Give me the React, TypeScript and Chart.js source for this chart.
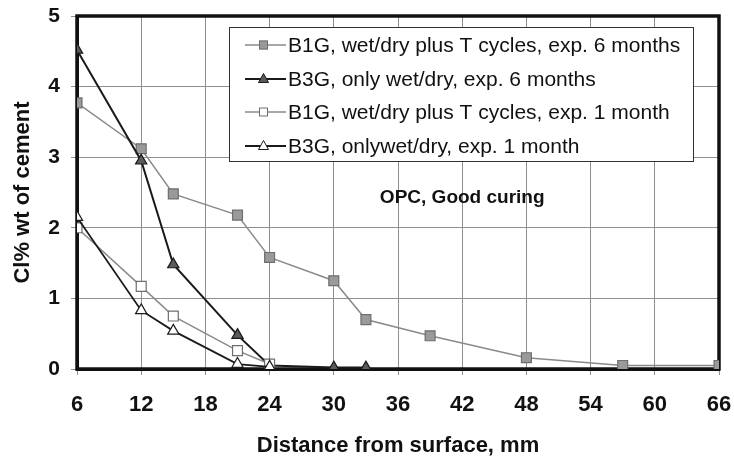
import React, { useEffect, useRef } from "react";
import { Chart, registerables } from "chart.js";

Chart.register(...registerables);

const seriesLabels = [
  "B1G, wet/dry plus T cycles, exp. 6 months",
  "B3G, only wet/dry, exp. 6 months",
  "B1G, wet/dry plus T cycles, exp. 1 month",
  "B3G, onlywet/dry, exp. 1 month",
];

const b1g6x = [6, 12, 15, 21, 24, 30, 33, 39, 48, 57, 66];
const b1g6y = [3.77, 3.12, 2.48, 2.18, 1.58, 1.25, 0.7, 0.47, 0.16, 0.05, 0.05];

const b3g6x = [6, 12, 15, 21, 24, 30, 33];
const b3g6y = [4.52, 2.95, 1.48, 0.48, 0.05, 0.02, 0.02];

const b1g1x = [6, 12, 15, 21, 24];
const b1g1y = [2.0, 1.17, 0.75, 0.26, 0.07];

const b3g1x = [6, 12, 15, 21, 24];
const b3g1y = [2.15, 0.83, 0.54, 0.07, 0.03];

const xTicks = [6, 12, 18, 24, 30, 36, 42, 48, 54, 60, 66];
const yTicks = [0, 1, 2, 3, 4, 5];

const annotationText = "OPC, Good curing";
const xTitle = "Distance from surface, mm";
const yTitle = "Cl% wt of cement";

const FONT = "'Liberation Sans', Arial, sans-serif";

const styles = [
  { line: "#8a8a8a", width: 1.5, style: "rect", fill: "#9a9a9a", border: "#6e6e6e", radius: 7 },
  { line: "#1a1a1a", width: 2, style: "triangle", fill: "#5a5a5a", border: "#1a1a1a", radius: 6.5 },
  { line: "#8a8a8a", width: 1.5, style: "rect", fill: "#ffffff", border: "#6e6e6e", radius: 7 },
  { line: "#1a1a1a", width: 1.8, style: "triangle", fill: "#ffffff", border: "#1a1a1a", radius: 6.5 },
];

function pts(xs: number[], ys: number[]) {
  return xs.map((x, i) => ({ x, y: ys[i] }));
}

const framePlugin = {
  id: "frame",
  beforeDatasetsDraw(chart: any) {
    const { ctx, chartArea: a } = chart;
    ctx.save();
    ctx.strokeStyle = "#111";
    ctx.lineWidth = 3.5;
    ctx.strokeRect(a.left, a.top, a.right - a.left, a.bottom - a.top);
    ctx.font = `bold 19px ${FONT}`;
    ctx.fillStyle = "#111";
    ctx.textAlign = "center";
    ctx.textBaseline = "middle";
    const xs = chart.scales.x;
    const ys = chart.scales.y;
    ctx.fillText(annotationText, xs.getPixelForValue(42.0), ys.getPixelForValue(2.43));
    ctx.restore();
  },
  afterDraw(chart: any) {
    const { ctx } = chart;
    const left = 229, top = 27, right = 693, bottom = 161;
    ctx.save();
    ctx.fillStyle = "#fff";
    ctx.fillRect(left, top, right - left, bottom - top);
    ctx.strokeStyle = "#333";
    ctx.lineWidth = 1;
    ctx.strokeRect(left + 0.5, top + 0.5, right - left, bottom - top);
    const rows = [45, 79, 112, 146];
    ctx.font = `21px ${FONT}`;
    ctx.textBaseline = "middle";
    ctx.textAlign = "left";
    seriesLabels.forEach((lbl, i) => {
      const s = styles[i];
      const y = rows[i];
      ctx.strokeStyle = s.line;
      ctx.lineWidth = s.width;
      ctx.beginPath();
      ctx.moveTo(245, y);
      ctx.lineTo(286, y);
      ctx.stroke();
      ctx.fillStyle = s.fill;
      ctx.strokeStyle = s.border;
      ctx.lineWidth = 1;
      if (s.style === "rect") {
        ctx.fillRect(259, y - 4.5, 9, 9);
        ctx.strokeRect(259.5, y - 4, 8, 8);
      } else {
        ctx.beginPath();
        ctx.moveTo(263.5, y - 5.5);
        ctx.lineTo(268.5, y + 3.5);
        ctx.lineTo(258.5, y + 3.5);
        ctx.closePath();
        ctx.fill();
        ctx.stroke();
      }
      ctx.fillStyle = "#111";
      ctx.fillText(lbl, 288, y + 1);
    });
    ctx.restore();
  },
};

export default function App() {
  const ref = useRef<HTMLCanvasElement>(null);
  useEffect(() => {
    const canvas = ref.current!;
    const datasets = [
      pts(b1g6x, b1g6y),
      pts(b3g6x, b3g6y),
      pts(b1g1x, b1g1y),
      pts(b3g1x, b3g1y),
    ].map((data, i) => {
      const s = styles[i];
      return {
        label: seriesLabels[i],
        data,
        borderColor: s.line,
        borderWidth: s.width,
        pointStyle: s.style,
        pointRadius: s.radius,
        pointBackgroundColor: s.fill,
        pointBorderColor: s.border,
        pointBorderWidth: 1.2,
        tension: 0,
        order: 4 - i,
      };
    });
    const chart = new Chart(canvas, {
      type: "line",
      data: { datasets },
      plugins: [framePlugin],
      options: {
        animation: false,
        responsive: false,
        events: [],
        layout: { padding: { top: 16, right: 15, left: 0, bottom: 0 } },
        plugins: { legend: { display: false }, tooltip: { enabled: false } },
        scales: {
          x: {
            type: "linear",
            min: 6,
            max: 66,
            afterBuildTicks: (scale: any) => {
              scale.ticks = xTicks.map((v) => ({ value: v }));
            },
            afterFit: (scale: any) => {
              scale.height = 90;
              scale.paddingLeft = 0;
              scale.paddingRight = 0;
            },
            grid: { color: "#8f8f8f", lineWidth: 1, tickLength: 6, drawOnChartArea: true },
            border: { color: "#111", width: 3 },
            ticks: {
              color: "#111",
              font: { family: FONT, size: 22, weight: "bold" },
              padding: 17,
              maxRotation: 0,
              autoSkip: false,
            },
            title: {
              display: true,
              text: xTitle,
              color: "#111",
              font: { family: FONT, size: 22, weight: "bold" },
              padding: { top: 0, bottom: 0 },
            },
          },
          y: {
            type: "linear",
            min: 0,
            max: 5,
            afterBuildTicks: (scale: any) => {
              scale.ticks = yTicks.map((v) => ({ value: v }));
            },
            afterFit: (scale: any) => {
              scale.width = 77;
              scale.paddingTop = 0;
              scale.paddingBottom = 0;
            },
            grid: { color: "#8f8f8f", lineWidth: 1, tickLength: 6 },
            border: { color: "#111", width: 3 },
            ticks: {
              color: "#111",
              font: { family: FONT, size: 21, weight: "bold" },
              padding: 11,
            },
            title: {
              display: true,
              text: yTitle,
              color: "#111",
              font: { family: FONT, size: 22, weight: "bold" },
              padding: { top: 10, bottom: 0 },
            },
          },
        },
      } as any,
    });
    return () => chart.destroy();
  }, []);
  return (
    <div style={{ position: "absolute", left: 0, top: 0, width: 734, height: 459, background: "#fff" }}>
      <canvas ref={ref} width={734} height={459} style={{ width: 734, height: 459, display: "block" }} />
    </div>
  );
}
